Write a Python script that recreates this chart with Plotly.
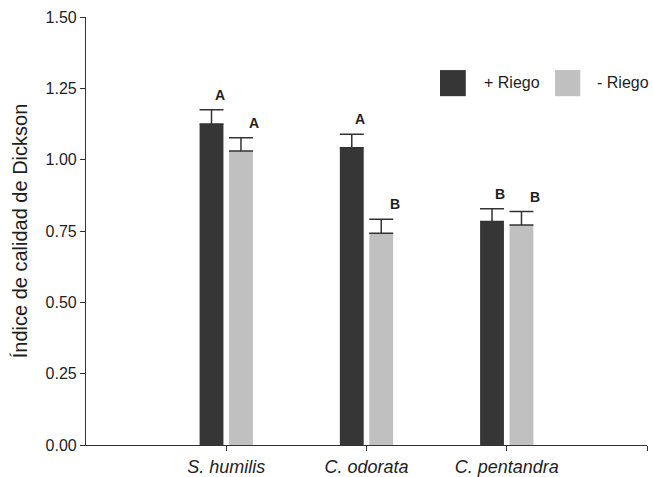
import plotly.graph_objects as go

categories = ["S. humilis", "C. odorata", "C. pentandra"]
riego_mas = [1.125, 1.042, 0.783]
riego_mas_err = [0.050, 0.047, 0.045]
riego_menos = [1.030, 0.742, 0.771]
riego_menos_err = [0.047, 0.049, 0.047]
letters_mas = ["A", "A", "B"]
letters_menos = ["A", "B", "B"]
series_names = ["+ Riego", "- Riego"]
y_ticks = [0, 0.25, 0.5, 0.75, 1.0, 1.25, 1.5]

DARK = "#363636"
LIGHT = "#c0c0c0"
AX = "#333333"
TXT = "#1e1e1e"
FONT = "Liberation Sans, Arial, sans-serif"

xpos = list(range(len(categories)))

fig = go.Figure()
for vals, errs, col, off, name in [
    (riego_mas, riego_mas_err, DARK, -0.19, series_names[0]),
    (riego_menos, riego_menos_err, LIGHT, 0.02, series_names[1]),
]:
    fig.add_trace(go.Bar(
        x=xpos, y=vals, width=0.17, offset=off, name=name,
        marker=dict(color=col, line=dict(width=0)),
        error_y=dict(type="data", array=errs, arrayminus=[0] * len(errs),
                     symmetric=False, color=AX, thickness=1.5, width=12),
        showlegend=False,
    ))

# significance letters
for i in xpos:
    fig.add_annotation(x=i - 0.045, y=riego_mas[i] + riego_mas_err[i], text="<b>%s</b>" % letters_mas[i],
                       showarrow=False, yanchor="middle", yshift=15,
                       font=dict(family=FONT, size=14, color=TXT))
    fig.add_annotation(x=i + 0.2, y=riego_menos[i] + riego_menos_err[i], text="<b>%s</b>" % letters_menos[i],
                       showarrow=False, yanchor="middle", yshift=15,
                       font=dict(family=FONT, size=14, color=TXT))

# legend (manual, large swatches)
fig.add_shape(type="rect", xref="paper", yref="paper", x0=0.631, x1=0.677, y0=0.815, y1=0.876,
              fillcolor=DARK, line=dict(width=0))
fig.add_shape(type="rect", xref="paper", yref="paper", x0=0.836, x1=0.881, y0=0.815, y1=0.876,
              fillcolor=LIGHT, line=dict(width=0))
fig.add_annotation(xref="paper", yref="paper", x=0.706, y=0.846, text=series_names[0],
                   showarrow=False, xanchor="left", yanchor="middle",
                   font=dict(family=FONT, size=16, color=TXT))
fig.add_annotation(xref="paper", yref="paper", x=0.907, y=0.846, text=series_names[1],
                   showarrow=False, xanchor="left", yanchor="middle",
                   font=dict(family=FONT, size=16, color=TXT))

fig.update_layout(
    width=653, height=477,
    margin=dict(l=86, r=6, t=17, b=32),
    paper_bgcolor="white", plot_bgcolor="white",
    barmode="overlay",
    font=dict(family=FONT, color=TXT),
    xaxis=dict(range=[-1, 3], tickvals=xpos + [3], automargin=False,
               ticktext=["<i>%s</i>" % c for c in categories] + [""],
               showgrid=False, zeroline=False, showline=True, linecolor=AX, linewidth=1.2,
               ticks="outside", ticklen=5, tickcolor=AX, tickwidth=1.2,
               tickfont=dict(family=FONT, size=18, color=TXT)),
    yaxis=dict(range=[0, 1.5], tickvals=y_ticks, tickformat=".2f", automargin=False,
               showgrid=False, zeroline=False, showline=True, linecolor=AX, linewidth=1.2,
               ticks="outside", ticklen=5, tickcolor=AX, tickwidth=1.2,
               tickfont=dict(family=FONT, size=16, color=TXT),
               title=dict(text="Índice de calidad de Dickson", standoff=12,
                          font=dict(family=FONT, size=20, color=TXT))),
)

fig.write_html("out.html", config={"displayModeBar": False},
               post_script="document.body.style.margin='0';document.body.style.overflow='hidden';")
